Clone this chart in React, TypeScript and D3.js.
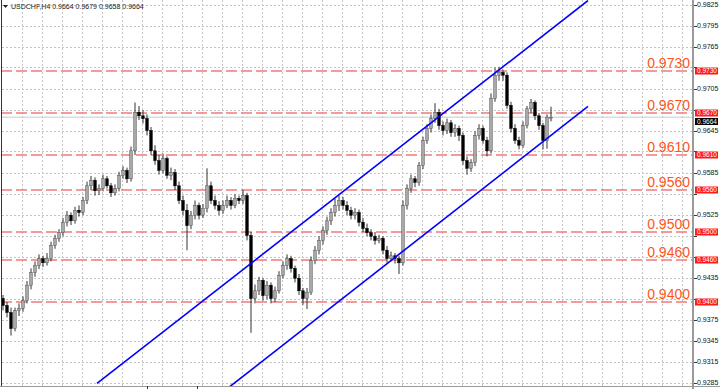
import React from "react";
import * as d3 from "d3";

// Prices stored in 1e-4 units (9664 = 0.9664)
const openP = [9405,9395,9385,9362,9388,9391,9402,9424,9442,9452,9462,9456,9462,9481,9491,9499,9514,9524,9516,9531,9528,9545,9566,9574,9559,9562,9576,9566,9556,9562,9581,9588,9576,9616,9671,9666,9662,9645,9616,9602,9588,9605,9581,9585,9566,9545,9531,9509,9524,9538,9524,9534,9566,9545,9538,9531,9538,9545,9538,9548,9545,9552,9495,9405,9416,9431,9409,9424,9405,9416,9438,9452,9462,9448,9434,9416,9405,9414,9459,9474,9488,9502,9516,9528,9538,9545,9538,9531,9524,9528,9514,9505,9499,9494,9488,9491,9474,9462,9466,9462,9456,9538,9562,9576,9571,9595,9631,9648,9662,9671,9652,9645,9656,9642,9648,9638,9602,9591,9599,9638,9648,9631,9616,9691,9724,9728,9724,9681,9648,9631,9624,9652,9676,9685,9666,9652,9631,9664];
const highP = [9410,9400,9392,9392,9398,9408,9430,9448,9458,9468,9466,9470,9486,9496,9504,9520,9530,9528,9536,9538,9550,9572,9580,9578,9568,9582,9580,9570,9568,9586,9594,9592,9622,9685,9680,9674,9668,9650,9624,9610,9612,9608,9592,9590,9572,9552,9540,9530,9545,9542,9540,9591,9572,9552,9544,9545,9552,9550,9554,9552,9560,9556,9500,9425,9436,9434,9430,9428,9422,9444,9458,9468,9466,9452,9440,9420,9420,9465,9480,9494,9508,9522,9534,9548,9552,9550,9544,9536,9534,9532,9520,9512,9504,9500,9496,9494,9480,9472,9470,9466,9545,9568,9582,9580,9600,9636,9654,9668,9684,9676,9658,9662,9660,9654,9652,9642,9608,9604,9644,9654,9652,9636,9698,9735,9736,9732,9728,9686,9654,9636,9658,9680,9690,9688,9670,9656,9668,9679];
const lowP = [9388,9378,9352,9358,9380,9386,9398,9418,9436,9447,9450,9452,9458,9476,9486,9494,9508,9510,9512,9522,9524,9540,9560,9552,9553,9558,9562,9550,9552,9558,9576,9570,9572,9610,9660,9655,9638,9610,9596,9582,9584,9576,9574,9560,9540,9524,9474,9504,9518,9518,9520,9528,9540,9532,9524,9526,9534,9532,9534,9540,9540,9488,9356,9398,9410,9402,9404,9398,9400,9412,9434,9446,9442,9428,9410,9396,9390,9410,9454,9468,9482,9496,9510,9522,9530,9532,9524,9518,9518,9508,9500,9494,9488,9482,9484,9468,9456,9458,9455,9440,9452,9532,9556,9564,9566,9590,9626,9642,9656,9646,9638,9640,9636,9636,9630,9596,9582,9586,9594,9632,9626,9608,9612,9686,9716,9716,9676,9642,9626,9618,9620,9648,9670,9660,9646,9618,9619,9658];
const closeP = [9395,9385,9362,9388,9391,9402,9424,9442,9452,9462,9456,9462,9481,9491,9499,9514,9524,9516,9531,9528,9545,9566,9574,9559,9562,9576,9566,9556,9562,9581,9588,9576,9616,9671,9666,9662,9645,9616,9602,9588,9605,9581,9585,9566,9545,9531,9509,9524,9538,9524,9534,9566,9545,9538,9531,9538,9545,9538,9548,9545,9552,9495,9405,9416,9431,9409,9424,9405,9416,9438,9452,9462,9448,9434,9416,9405,9414,9459,9474,9488,9502,9516,9528,9538,9545,9538,9531,9524,9528,9514,9505,9499,9494,9488,9491,9474,9462,9466,9462,9456,9538,9562,9576,9571,9595,9631,9648,9662,9671,9652,9645,9656,9642,9648,9638,9602,9591,9599,9638,9648,9631,9616,9691,9724,9728,9724,9681,9648,9631,9624,9652,9676,9685,9666,9652,9631,9664,9664];

const levels = [0.973, 0.967, 0.961, 0.956, 0.95, 0.946, 0.94];
const levelLabels = ["0.9730", "0.9670", "0.9610", "0.9560", "0.9500", "0.9460", "0.9400"];
const axisTicks = [0.9825,0.9795,0.9765,0.9735,0.9705,0.9675,0.9645,0.9615,0.9585,0.9555,0.9525,0.9495,0.9465,0.9435,0.9405,0.9375,0.9345,0.9315,0.9285];
const currentPrice = 0.9664;
const headerText = "USDCHF,H4  0.9664 0.9679 0.9658 0.9664";
// channel anchors: [bar index, price]
const upperChannel: [number, number][] = [[23.5, 0.92836], [146.25, 0.98307]];
const lowerChannel: [number, number][] = [[56.75, 0.92793], [146.25, 0.96793]];

const PLOT_R = 692;
const PLOT_B = 386;

export default function App() {
  const y = d3.scaleLinear().domain([0.9285, 0.9825]).range([382.5, 4.5]);
  const x = d3.scaleLinear().domain([0, 137]).range([3, 551]);
  const line = d3.line<[number, number]>().x((d) => x(d[0])).y((d) => y(d[1]));
  const vGrid = d3.range(22, PLOT_R, 20);
  const bw = 2.6;
  const font = "'Liberation Sans', Arial, sans-serif";
  const boxed = [...levels, currentPrice];
  // axis labels hidden behind the price boxes
  const visibleTicks = axisTicks.filter((t) => boxed.every((b) => Math.abs(y(t) - y(b)) > 8));

  return (
    <svg width={720} height={389} style={{ position: "absolute", left: 0, top: 0, background: "#fff" }}>
      <defs>
        <clipPath id="plot">
          <rect x={1} y={0} width={PLOT_R - 1} height={PLOT_B} />
        </clipPath>
      </defs>
      <rect x={0} y={0} width={720} height={389} fill="#fff" />
      {/* grid */}
      <g stroke="#c4c4c4" strokeWidth={1} strokeDasharray="2,2">
        {axisTicks.map((t) => (
          <line key={"h" + t} x1={2} x2={PLOT_R} y1={Math.round(y(t)) + 0.5} y2={Math.round(y(t)) + 0.5} />
        ))}
        {vGrid.map((g) => (
          <line key={"v" + g} x1={g + 0.5} x2={g + 0.5} y1={0} y2={PLOT_B} />
        ))}
      </g>
      {/* current price line */}
      <line x1={1} x2={PLOT_R} y1={y(currentPrice)} y2={y(currentPrice)} stroke="#c8c8c8" strokeWidth={1} />
      {/* level lines */}
      <g>
        {levels.map((l) => (
          <line key={"l" + l} x1={1} x2={PLOT_R} y1={y(l)} y2={y(l)} stroke="#f07a7a" strokeWidth={1.5} strokeDasharray="11,4" />
        ))}
      </g>
      {/* candles */}
      <g clipPath="url(#plot)">
        {closeP.map((c, i) => {
          const o = openP[i] / 10000, cc = c / 10000, h = highP[i] / 10000, lo = lowP[i] / 10000;
          const cx = x(i);
          const bull = cc >= o;
          const top = y(Math.max(o, cc));
          const bot = y(Math.min(o, cc));
          return (
            <g key={i}>
              <line x1={cx} x2={cx} y1={y(h)} y2={y(lo)} stroke="#333" strokeWidth={1} />
              <rect x={cx - bw / 2} y={top} width={bw} height={Math.max(1, bot - top)} fill={bull ? "#a8a8a8" : "#000"} stroke={bull ? "#555" : "#000"} strokeWidth={0.5} />
            </g>
          );
        })}
      </g>
      {/* channel */}
      <g clipPath="url(#plot)" fill="none" stroke="#0000ff" strokeWidth={1.6}>
        <path d={line(upperChannel) || ""} />
        <path d={line(lowerChannel) || ""} />
      </g>
      {/* level text */}
      <g fontFamily={font} fontSize={14} fill="#ff5418" textAnchor="end">
        {levels.map((l, i) => (
          <text key={"t" + l} x={690} y={y(l) - 3}>{levelLabels[i]}</text>
        ))}
      </g>
      {/* frame */}
      <line x1={1.5} x2={1.5} y1={0} y2={PLOT_B} stroke="#333" strokeWidth={1} />
      <line x1={PLOT_R + 1} x2={PLOT_R + 1} y1={0} y2={389} stroke="#9a9a9a" strokeWidth={2} />
      <line x1={0} x2={720} y1={PLOT_B + 0.5} y2={PLOT_B + 0.5} stroke="#9a9a9a" strokeWidth={1} />
      <line x1={147.5} x2={147.5} y1={PLOT_B} y2={389} stroke="#333" strokeWidth={1} />
      <line x1={197.5} x2={197.5} y1={PLOT_B} y2={389} stroke="#333" strokeWidth={1} />
      {/* axis ticks and labels */}
      <g fontFamily={font} fontSize={7} fill="#111">
        {axisTicks.map((t) => (
          <line key={"k" + t} x1={PLOT_R + 2} x2={PLOT_R + 5} y1={Math.round(y(t)) + 0.5} y2={Math.round(y(t)) + 0.5} stroke="#333" />
        ))}
        {visibleTicks.map((t) => (
          <text key={"a" + t} x={697} y={y(t) + 2.5}>{d3.format(".4f")(t)}</text>
        ))}
      </g>
      {/* level boxes */}
      <g fontFamily={font} fontSize={6.5} fill="#fff">
        {levels.map((l, i) => (
          <g key={"b" + l}>
            <rect x={695} y={y(l) - 3.5} width={23} height={7} fill="#ff1a1a" />
            <text x={697} y={y(l) + 2.3}>{levelLabels[i]}</text>
          </g>
        ))}
        <rect x={695} y={y(currentPrice) + 0.8} width={23} height={7} fill="#000" />
        <text x={697} y={y(currentPrice) + 6.6}>{d3.format(".4f")(currentPrice)}</text>
      </g>
      {/* header */}
      <path d="M3,5 L8,5 L5.5,8 Z" fill="#222" />
      <text x={11} y={8.5} fontFamily={font} fontSize={7} fill="#222">{headerText}</text>
    </svg>
  );
}
